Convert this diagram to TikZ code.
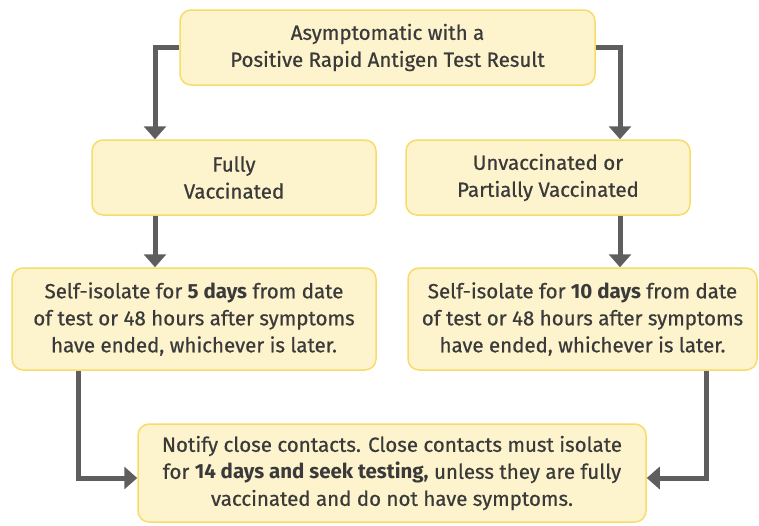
\documentclass[tikz,border=0pt]{standalone}
\usepackage{fontspec}
\setmainfont{Fira Sans}[UprightFeatures={FakeBold=0.6}]
\usetikzlibrary{arrows.meta}
\definecolor{boxfill}{HTML}{FDF3CC}
\definecolor{boxline}{HTML}{F7DC6B}
\definecolor{arrgray}{HTML}{5E5E5E}
\definecolor{txt}{HTML}{3A3A3A}
\begin{document}
\begin{tikzpicture}[x=1pt,y=-1pt,
  box/.style={draw=boxline, fill=boxfill, line width=1.5pt, rounded corners=11pt,
    align=center, text=txt, inner sep=0pt, font=\fontsize{20.5}{27}\selectfont},
  arr/.style={draw=arrgray, line width=5pt, -{Triangle[width=22pt,length=13pt]}}]
\useasboundingbox (0,0) rectangle (759,525);
\node[box, minimum width=415pt, minimum height=75pt] (top) at (387.5,47.5) {Asymptomatic with a\\Positive Rapid Antigen Test Result};
\node[box, minimum width=284pt, minimum height=75pt] (fully) at (234,177.5) {Fully\\Vaccinated};
\node[box, minimum width=284pt, minimum height=75pt] (unvac) at (548,177.5) {Unvaccinated or\\Partially Vaccinated};
\node[box, minimum width=364pt, minimum height=102pt] (sl) at (194,319) {Self-isolate for \textbf{5 days} from date\\of test or 48 hours after symptoms\\have ended, whichever is later.};
\node[box, minimum width=349pt, minimum height=102pt] (sr) at (582.5,319) {Self-isolate for \textbf{10 days} from date\\of test or 48 hours after symptoms\\have ended, whichever is later.};
\node[box, minimum width=508pt, minimum height=98pt] (bot) at (392,473) {Notify close contacts. Close contacts must isolate\\for \textbf{14 days and seek testing,} unless they are fully\\vaccinated and do not have symptoms.};
\coordinate (tl) at (155,47.5);
\coordinate (tr) at (620,47.5);
\coordinate (bl) at (78,478);
\coordinate (br) at (706,478);
\draw[arr] (top.west) -- (tl) -- (tl |- fully.north);
\draw[arr] (top.east) -- (tr) -- (tr |- unvac.north);
\draw[arr] (tl |- fully.south) -- (tl |- sl.north);
\draw[arr] (tr |- unvac.south) -- (tr |- sr.north);
\draw[arr] (bl |- sl.south) -- (bl) -- (bl -| bot.west);
\draw[arr] (br |- sr.south) -- (br) -- (br -| bot.east);
\end{tikzpicture}
\end{document}
